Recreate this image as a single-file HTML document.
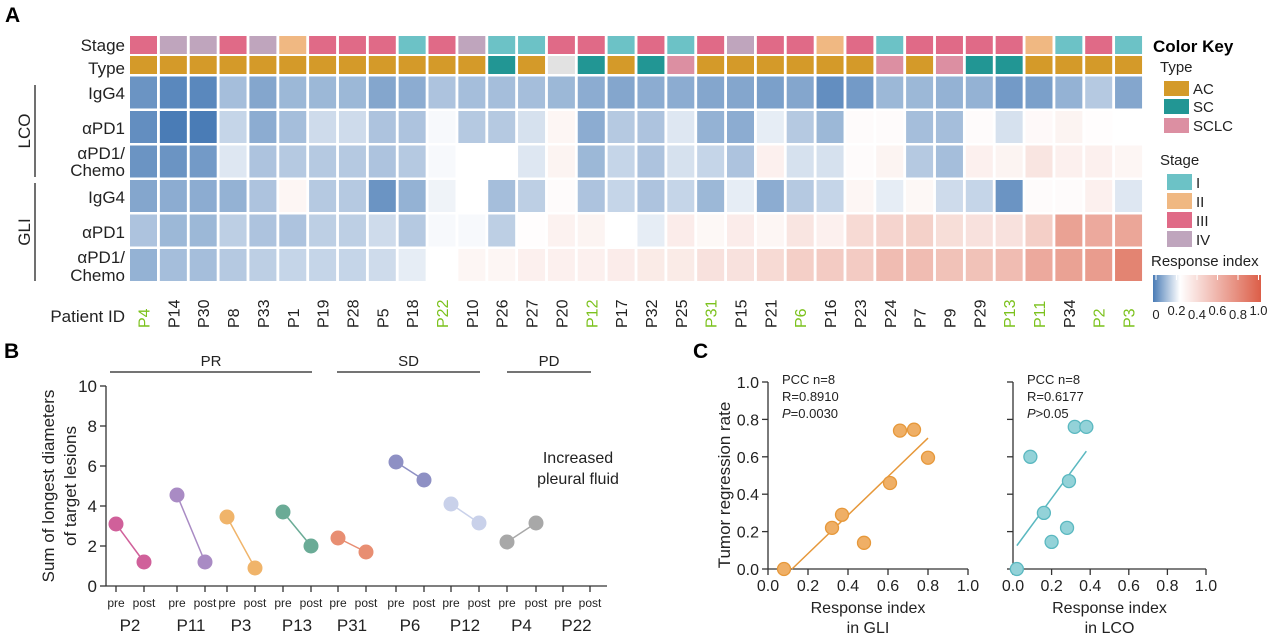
<!DOCTYPE html>
<html><head><meta charset="utf-8">
<style>
body{margin:0;background:#fff;}
svg{display:block;font-family:"Liberation Sans",Arial,sans-serif;}
</style></head>
<body>
<svg id="s" width="1270" height="636" viewBox="0 0 1270 636" xmlns="http://www.w3.org/2000/svg"></svg>
<script>
const s=document.getElementById('s');let h='';
const stC={1:'#6cc2c6',2:'#f0b882',3:'#e06a87',4:'#bfa5bd'};
const tyC={A:'#d49a29',S:'#229694',L:'#dc8fa2',N:'#e2e2e2'};
const stage=[3,4,4,3,4,2,3,3,3,1,3,4,1,1,3,3,1,3,1,3,4,3,3,2,3,1,3,3,3,3,2,1,3,1];
const type="AAAAAAAAAAAASANSASLAAAAAALALSSAAA A".replace(/ /g,'');
const rows=[
[.04,.02,.02,.11,.07,.1,.1,.1,.07,.08,.12,.11,.11,.11,.1,.08,.07,.08,.08,.07,.07,.06,.07,.03,.05,.1,.1,.09,.09,.05,.06,.09,.13,.07],
[.03,0,0,.15,.08,.11,.16,.16,.12,.12,.21,.13,.13,.17,.27,.08,.13,.12,.18,.09,.08,.19,.13,.1,.24,.24,.11,.11,.24,.17,.25,.28,.23,.22],
[.04,.04,.05,.18,.12,.13,.13,.13,.12,.13,.21,.22,.22,.18,.28,.1,.15,.12,.17,.15,.12,.3,.17,.17,.24,.28,.13,.11,.3,.28,.36,.3,.3,.27],
[.07,.08,.08,.09,.12,.27,.13,.13,.04,.09,.2,.22,.11,.14,.24,.12,.15,.12,.15,.1,.19,.08,.13,.15,.27,.19,.26,.16,.15,.04,.24,.24,.3,.18],
[.12,.1,.1,.14,.12,.12,.14,.14,.16,.13,.21,.21,.14,.23,.29,.28,.22,.19,.32,.26,.32,.27,.36,.3,.42,.45,.47,.4,.38,.38,.48,.72,.68,.7],
[.09,.11,.11,.13,.14,.15,.15,.15,.16,.19,.22,.27,.27,.3,.3,.3,.32,.33,.33,.38,.38,.42,.48,.5,.5,.58,.58,.55,.55,.58,.68,.72,.75,.88]];
function mix(a,b,t){return 'rgb('+a.map((v,i)=>Math.round(v+(b[i]-v)*t)).join(',')+')';}
const B=[74,124,182],W=[255,255,255],R=[222,110,88];
function cmap(v){if(v<.22)return mix(B,W,v/.22);return mix(W,R,(v-.22)/.78);}
const pids=['P4','P14','P30','P8','P33','P1','P19','P28','P5','P18','P22','P10','P26','P27','P20','P12','P17','P32','P25','P31','P15','P21','P6','P16','P23','P24','P7','P9','P29','P13','P11','P34','P2','P3'];
const green=new Set(['P4','P22','P12','P31','P6','P13','P11','P2','P3']);
const P=29.85,cw=27;
const rowY=[76.5,111,145.5,180,214.5,249];
for(let c=0;c<34;c++){const x=130+c*P;
h+=`<rect x="${x}" y="36" width="${cw}" height="18" fill="${stC[stage[c]]}"/>`;
h+=`<rect x="${x}" y="56" width="${cw}" height="18" fill="${tyC[type[c]]}"/>`;
rows.forEach((r,i)=>{h+=`<rect x="${x}" y="${rowY[i]}" width="${cw}" height="32" fill="${cmap(r[c])}"/>`;});
h+=`<text transform="translate(${x+cw/2+6},328) rotate(-90)" font-size="16" fill="${green.has(pids[c])?'#7cc21e':'#222'}">${pids[c]}</text>`;}
h+=`<text x="5" y="22" font-size="21" font-weight="bold">A</text>`;
const lab=(t,y)=>`<text x="125" y="${y}" font-size="17" text-anchor="end" fill="#222">${t}</text>`;
h+=lab('Stage',51)+lab('Type',74)+lab('IgG4',99)+lab('αPD1',134)+lab('αPD1/',159)+lab('Chemo',176)+lab('IgG4',203)+lab('αPD1',238)+lab('αPD1/',263)+lab('Chemo',281);
h+=`<text x="125" y="322" font-size="17" text-anchor="end" fill="#222">Patient ID</text>`;
h+=`<line x1="35" y1="85" x2="35" y2="177" stroke="#222" stroke-width="1.3"/><line x1="35" y1="183" x2="35" y2="281" stroke="#222" stroke-width="1.3"/>`;
h+=`<text transform="translate(30,131) rotate(-90)" font-size="17" text-anchor="middle" fill="#222">LCO</text>`;
h+=`<text transform="translate(30,232) rotate(-90)" font-size="17" text-anchor="middle" fill="#222">GLI</text>`;
h+=`<text x="1153" y="52" font-size="17" font-weight="bold">Color Key</text><text x="1160" y="72" font-size="15" fill="#222">Type</text>`;
[['AC','#d49a29',81],['SC','#229694',99],['SCLC','#dc8fa2',118]].forEach(a=>{h+=`<rect x="1164" y="${a[2]}" width="25" height="15" fill="${a[1]}"/><text x="1193" y="${a[2]+13}" font-size="15" fill="#222">${a[0]}</text>`;});
h+=`<text x="1160" y="165" font-size="15" fill="#222">Stage</text>`;
[['I',1,174],['II',2,193],['III',3,212],['IV',4,231]].forEach(a=>{h+=`<rect x="1167" y="${a[2]}" width="25" height="16" fill="${stC[a[1]]}"/><text x="1196" y="${a[2]+14}" font-size="15" fill="#222">${a[0]}</text>`;});
h+=`<text x="1151" y="266" font-size="15" fill="#222">Response index</text>`;
h+=`<defs><linearGradient id="g"><stop offset="0" stop-color="#4a7cb6"/><stop offset=".25" stop-color="#fff"/><stop offset="1" stop-color="#dc5e48"/></linearGradient></defs>`;
h+=`<rect x="1153" y="275" width="108" height="27" fill="url(#g)"/>`;
['0','0.2','0.4','0.6','0.8','1.0'].forEach((t,i)=>{const x=1156+i*20.5;h+=`<line x1="${x}" y1="275" x2="${x}" y2="280" stroke="#fff"/><text x="${x}" y="${i%2?315:319}" font-size="13" text-anchor="middle" fill="#222">${t}</text>`;});
h+=`<text x="4" y="358" font-size="21" font-weight="bold">B</text>`;
h+=`<line x1="106" y1="386" x2="106" y2="586" stroke="#333" stroke-width="1.3"/><line x1="106" y1="586" x2="607" y2="586" stroke="#333" stroke-width="1.3"/>`;
for(let v=0;v<=10;v+=2){const y=586-v*20;h+=`<line x1="100" y1="${y}" x2="106" y2="${y}" stroke="#333" stroke-width="1.3"/><text x="97" y="${y+6}" font-size="17" text-anchor="end" fill="#222">${v}</text>`;}
h+=`<text transform="translate(54,486) rotate(-90)" font-size="17" text-anchor="middle" fill="#222">Sum of longest diameters</text>`;
h+=`<text transform="translate(76,486) rotate(-90)" font-size="17" text-anchor="middle" fill="#222">of target lesions</text>`;
const bp=[['P2',116,144,3.1,1.2,'#d0609a'],['P11',177,205,4.55,1.2,'#a98bc4'],['P3',227,255,3.45,.9,'#f0b46a'],['P13',283,311,3.7,2.0,'#6aab96'],['P31',338,366,2.4,1.7,'#e88e72'],['P6',396,424,6.2,5.3,'#8e90c4'],['P12',451,479,4.1,3.15,'#c9d1ea'],['P4',507,536,2.2,3.15,'#a8a8a8'],['P22',563,590,null,null,'']];
bp.forEach(b=>{[b[1],b[2]].forEach((x,i)=>{h+=`<line x1="${x}" y1="586" x2="${x}" y2="592" stroke="#333" stroke-width="1.3"/><text x="${x}" y="607" font-size="12" text-anchor="middle" fill="#222">${i?'post':'pre'}</text>`;});
h+=`<text x="${(b[1]+b[2])/2}" y="631" font-size="17" text-anchor="middle" fill="#222">${b[0]}</text>`;
if(b[3]!=null){const y1=586-b[3]*20,y2=586-b[4]*20;h+=`<line x1="${b[1]}" y1="${y1}" x2="${b[2]}" y2="${y2}" stroke="${b[5]}" stroke-width="1.5"/><circle cx="${b[1]}" cy="${y1}" r="7.5" fill="${b[5]}"/><circle cx="${b[2]}" cy="${y2}" r="7.5" fill="${b[5]}"/>`;}});
[['PR',110,312],['SD',337,480],['PD',507,591]].forEach(a=>{h+=`<line x1="${a[1]}" y1="372" x2="${a[2]}" y2="372" stroke="#222" stroke-width="1.3"/><text x="${(a[1]+a[2])/2}" y="366" font-size="15" text-anchor="middle" fill="#222">${a[0]}</text>`;});
h+=`<text x="578" y="463" font-size="16" text-anchor="middle" fill="#222">Increased</text><text x="578" y="484" font-size="16" text-anchor="middle" fill="#222">pleural fluid</text>`;
h+=`<text x="693" y="358" font-size="21" font-weight="bold">C</text>`;
function sc(x0,xs,pts,line,fill,stroke,ylab,txt,xl){
h+=`<line x1="${x0}" y1="382" x2="${x0}" y2="569" stroke="#333" stroke-width="1.3"/><line x1="${x0}" y1="569" x2="${x0+xs}" y2="569" stroke="#333" stroke-width="1.3"/>`;
for(let i=0;i<=5;i++){const y=569-i*.2*187,x=x0+i*.2*xs;h+=`<line x1="${x0-6}" y1="${y}" x2="${x0}" y2="${y}" stroke="#333" stroke-width="1.3"/><line x1="${x}" y1="569" x2="${x}" y2="575" stroke="#333" stroke-width="1.3"/><text x="${x}" y="591" font-size="16" text-anchor="middle" fill="#222">${(i*.2).toFixed(1)}</text>`;
if(ylab)h+=`<text x="${x0-9}" y="${y+6}" font-size="16" text-anchor="end" fill="#222">${(i*.2).toFixed(1)}</text>`;}
const X=v=>x0+v*xs,Y=v=>569-v*187;
h+=`<line x1="${X(line[0])}" y1="${Y(line[1])}" x2="${X(line[2])}" y2="${Y(line[3])}" stroke="${stroke}" stroke-width="1.5"/>`;
pts.forEach(p=>{h+=`<circle cx="${X(p[0])}" cy="${Y(p[1])}" r="6.5" fill="${fill}" stroke="${stroke}" stroke-width="1.3"/>`;});
h+=`<text x="${x0+14}" y="384" font-size="13" fill="#222">PCC n=8</text><text x="${x0+14}" y="401" font-size="13" fill="#222">R=${txt[0]}</text><text x="${x0+14}" y="418" font-size="13" fill="#222"><tspan font-style="italic">P</tspan>${txt[1]}</text>`;
h+=`<text x="${x0+xs/2}" y="613" font-size="16" text-anchor="middle" fill="#222">Response index</text><text x="${x0+xs/2}" y="633" font-size="16" text-anchor="middle" fill="#222">${xl}</text>`;}
sc(768,200,[[.08,0],[.32,.22],[.37,.29],[.48,.14],[.61,.46],[.66,.74],[.73,.745],[.8,.595]],[.12,0,.8,.7],'#efaf66','#e6983a',true,['0.8910','=0.0030'],'in GLI');
sc(1013,193,[[.02,0],[.09,.6],[.16,.3],[.2,.145],[.28,.22],[.29,.47],[.32,.76],[.38,.76]],[.02,.125,.38,.63],'#93d2d8','#5ab8c0',false,['0.6177','&gt;0.05'],'in LCO');
h+=`<text transform="translate(730,485) rotate(-90)" font-size="17" text-anchor="middle" fill="#222">Tumor regression rate</text>`;
s.innerHTML=h;
</script>
</body></html>
